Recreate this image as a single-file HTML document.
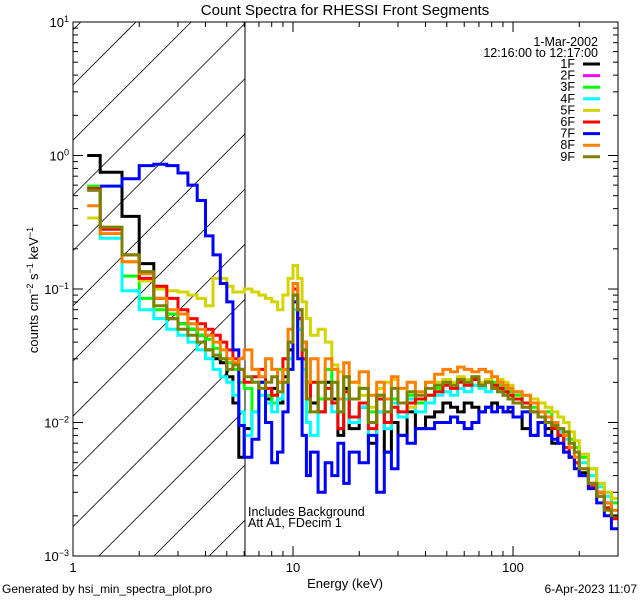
<!DOCTYPE html>
<html><head><meta charset="utf-8"><style>
html,body{margin:0;padding:0;background:#fff;width:640px;height:600px;overflow:hidden;}
svg{display:block;font-family:"Liberation Sans",sans-serif;overflow:hidden;}
</style></head><body>
<svg id="chart" width="640" height="600" viewBox="0 0 640 600" xmlns="http://www.w3.org/2000/svg">
<rect width="640" height="600" fill="#fff"/>
<defs><clipPath id="plotclip"><rect x="73" y="22" width="545" height="534"/></clipPath></defs>
<text x="345" y="15" font-size="15" text-anchor="middle">Count Spectra for RHESSI Front Segments</text>
<g id="hatch"></g>
<line x1="245" y1="22" x2="245" y2="556" stroke="#000" stroke-width="1"/>
<g id="series" clip-path="url(#plotclip)"></g>
<rect x="73" y="22" width="545" height="534" fill="none" stroke="#000" stroke-width="1"/>
<g id="axes"></g>
<text transform="translate(38,290) rotate(-90)" font-size="13" text-anchor="middle">counts cm<tspan baseline-shift="super" font-size="9">−2</tspan> s<tspan baseline-shift="super" font-size="9">−1</tspan> keV<tspan baseline-shift="super" font-size="9">−1</tspan></text>
<text x="345" y="588" font-size="13" text-anchor="middle">Energy (keV)</text>
<text x="248" y="516" font-size="12.5">Includes Background</text>
<text x="248" y="527" font-size="12.5">Att A1, FDecim  1</text>
<text x="2" y="593" font-size="12">Generated by hsi_min_spectra_plot.pro</text>
<text x="637" y="593" font-size="12" text-anchor="end">6-Apr-2023 11:07</text>
<text x="598" y="46" font-size="12.5" text-anchor="end">1-Mar-2002</text>
<text x="598" y="57" font-size="12.5" text-anchor="end">12:16:00 to 12:17:00</text>
<g id="legend"></g>
</svg>
<script>
const edges=[1.16,1.33,1.67,2.0,2.33,2.67,3.0,3.33,3.67,4.0,4.33,4.67,5.0,5.33,5.67,6.0,6.5,7,7.5,8,8.5,9,9.5,10,10.5,11,11.5,12,13,14,15,16,17,18,20,22,24,26,28,30,33,36,40,44,48,52,56,60,65,70,75,80,85,90,95,100,110,120,130,140,150,160,170,180,190,200,220,240,260,280,300];
const names=["1F","2F","3F","4F","5F","6F","7F","8F","9F"];
const colors=["#000000","#ff00ff","#00ff00","#00ffff","#d4d400","#ff0000","#0000ff","#ff8000","#808000"];
const s1F=[1.0,0.75,0.35,0.155,0.085,0.06,0.055,0.05,0.045,0.035,0.03,0.028,0.022,0.014,0.0055,
0.009,0.012,0.02,0.015,0.018,0.014,0.022,0.035,0.09,0.06,0.04,0.02,0.014,0.012,0.02,
0.015,0.008,0.018,0.009,0.013,0.007,0.012,0.006,0.01,0.008,0.012,0.009,0.011,0.012,0.014,0.013,0.012,0.014,0.013,0.012,0.013,0.014,0.013,0.012,0.012,
0.011,0.009,0.008,0.01,0.009,0.007,0.008,0.006,0.0055,0.005,0.0042,0.0035,0.003,0.0025,0.002];
const s2F=[];
const s3F=[0.59,0.29,0.125,0.085,0.07,0.065,0.055,0.05,0.045,0.042,0.036,0.03,0.028,0.025,0.02,
0.018,0.012,0.02,0.016,0.014,0.025,0.02,0.04,0.08,0.05,0.03,0.012,0.02,0.015,0.025,
0.02,0.012,0.022,0.015,0.018,0.012,0.016,0.01,0.015,0.012,0.016,0.014,0.016,0.018,0.02,0.019,0.021,0.02,0.022,0.019,0.021,0.02,0.019,0.018,0.017,
0.016,0.014,0.013,0.012,0.012,0.01,0.009,0.008,0.0075,0.0065,0.0055,0.0045,0.0035,0.003,0.0025];
const s4F=[0.55,0.24,0.097,0.07,0.06,0.05,0.045,0.04,0.035,0.03,0.025,0.022,0.02,0.016,0.012,
0.008,0.012,0.016,0.014,0.012,0.015,0.02,0.03,0.07,0.05,0.025,0.01,0.008,0.012,0.015,
0.012,0.009,0.015,0.01,0.013,0.008,0.012,0.009,0.014,0.011,0.015,0.012,0.014,0.016,0.017,0.016,0.018,0.017,0.019,0.018,0.017,0.018,0.017,0.016,0.015,
0.015,0.013,0.012,0.011,0.01,0.009,0.0085,0.0075,0.007,0.006,0.005,0.004,0.0033,0.0028,0.0022];
const s5F=[0.34,0.29,0.16,0.115,0.1,0.097,0.095,0.09,0.085,0.075,0.12,0.12,0.105,0.095,0.095,
0.1,0.095,0.09,0.085,0.08,0.07,0.09,0.12,0.15,0.12,0.08,0.06,0.045,0.05,0.04,
0.027,0.024,0.022,0.02,0.016,0.013,0.018,0.02,0.021,0.014,0.013,0.015,0.02,0.02,0.021,0.02,0.022,0.021,0.021,0.02,0.021,0.022,0.021,0.02,0.019,
0.017,0.016,0.015,0.014,0.013,0.012,0.011,0.01,0.0085,0.0073,0.0058,0.0045,0.0035,0.003,0.0027];
const s6F=[0.565,0.28,0.18,0.12,0.105,0.085,0.07,0.06,0.055,0.05,0.045,0.04,0.035,0.03,0.025,
0.02,0.022,0.025,0.018,0.016,0.02,0.03,0.04,0.1,0.06,0.03,0.015,0.02,0.012,0.018,
0.014,0.009,0.017,0.011,0.014,0.009,0.015,0.01,0.013,0.012,0.014,0.015,0.016,0.017,0.019,0.018,0.02,0.019,0.021,0.019,0.02,0.019,0.018,0.017,0.016,
0.015,0.014,0.012,0.011,0.01,0.009,0.008,0.0065,0.0055,0.005,0.004,0.0033,0.0028,0.0023,0.0019];
const s7F=[null,0.59,0.67,0.84,0.86,0.84,0.74,0.6,0.46,0.25,0.18,0.11,0.08,0.035,0.0095,
0.0055,0.0075,0.02,0.01,0.005,0.006,0.012,0.025,0.08,0.03,0.008,0.004,0.006,0.003,0.005,
0.004,0.007,0.0035,0.006,0.005,0.008,0.003,0.006,0.0045,0.008,0.007,0.009,0.009,0.01,0.01,0.011,0.01,0.009,0.01,0.012,0.013,0.012,0.013,0.012,0.013,
0.011,0.012,0.008,0.01,0.008,0.0075,0.007,0.006,0.0055,0.0045,0.004,0.0032,0.0025,0.002,0.0016];
const s8F=[0.42,0.26,0.16,0.13,0.085,0.07,0.065,0.055,0.05,0.045,0.04,0.035,0.03,0.028,0.03,
0.035,0.025,0.022,0.03,0.025,0.02,0.025,0.05,0.11,0.07,0.04,0.02,0.03,0.02,0.03,
0.025,0.015,0.028,0.02,0.024,0.016,0.02,0.015,0.022,0.018,0.02,0.017,0.02,0.023,0.025,0.024,0.026,0.025,0.024,0.025,0.024,0.022,0.02,0.019,0.018,
0.017,0.016,0.014,0.012,0.011,0.01,0.009,0.008,0.0065,0.0055,0.0045,0.0035,0.003,0.0025,0.0022];
const s9F=[0.55,0.29,0.18,0.135,0.075,0.06,0.05,0.045,0.04,0.035,0.032,0.03,0.025,0.027,0.025,
0.022,0.02,0.018,0.02,0.022,0.017,0.02,0.04,0.09,0.07,0.035,0.015,0.012,0.02,0.015,
0.02,0.012,0.022,0.015,0.018,0.01,0.016,0.012,0.018,0.014,0.017,0.016,0.018,0.019,0.02,0.019,0.021,0.02,0.022,0.019,0.02,0.018,0.017,0.016,0.015,
0.014,0.013,0.012,0.011,0.01,0.0095,0.009,0.0085,0.007,0.006,0.0045,0.0035,0.0028,0.0022,0.002];
const allSeries=[s1F,s2F,s3F,s4F,s5F,s6F,s7F,s8F,s9F];
const yTickExp=[-3,-2,-1,0,1];
const xTickLabels=[1,10,100];

const NS="http://www.w3.org/2000/svg";
const X0=73,X1=618,Y0=556,Y1=22,XMIN=1,XMAX=300,YMIN=-3,YMAX=1;
function xs(e){return X0+(Math.log10(e)-Math.log10(XMIN))/(Math.log10(XMAX)-Math.log10(XMIN))*(X1-X0);}
function ys(v){return Y0-(Math.log10(v)-YMIN)/(YMAX-YMIN)*(Y0-Y1);}
function cy(v){return Math.max(Y1,Math.min(Y0,ys(v)));}
function mk(t,a,p){const el=document.createElementNS(NS,t);for(const k in a)el.setAttribute(k,a[k]);p.appendChild(el);return el;}

const hatch=document.getElementById('hatch');
const HX1=245;
for(let c=158-55.2*3;c<900;c+=55.2){
  const xa=Math.max(X0,c-Y0),xb=Math.min(HX1,c-Y1);
  if(xb<=xa)continue;
  const ln=mk('line',{x1:xa,y1:c-xa,x2:xb,y2:c-xb,stroke:'#000','stroke-width':0.8},hatch);
  
  
}
const sg=document.getElementById('series');
allSeries.forEach((vals,si)=>{
  if(!vals.length)return;
  let d='';let pen=false;
  for(let i=0;i<vals.length;i++){
    const v=vals[i];
    if(v==null){pen=false;continue;}
    const xa=xs(edges[i]),xb=Math.min(X1,xs(edges[i+1])),y=cy(v);
    d+=(pen?'L':'M')+xa.toFixed(1)+','+y.toFixed(1)+'L'+xb.toFixed(1)+','+y.toFixed(1);
    pen=true;
  }
  const p=mk('path',{d:d,fill:'none',stroke:colors[si],'stroke-width':3,'stroke-linejoin':'miter'},sg);
  
  
});
const ax=document.getElementById('axes');
for(let e=YMIN;e<=YMAX;e++){
  for(let m=1;m<=9;m++){
    if(e===YMAX&&m>1)break;
    const y=ys(m*Math.pow(10,e));const L=m===1?10:5;
    mk('line',{x1:X0,y1:y,x2:X0+L,y2:y,stroke:'#000'},ax);
    mk('line',{x1:X1,y1:y,x2:X1-L,y2:y,stroke:'#000'},ax);
  }
}
yTickExp.forEach(e=>{
  const t=mk('text',{x:X0-4,y:ys(Math.pow(10,e))+5,'font-size':13,'text-anchor':'end'},ax);
  
  
  t.innerHTML='10<tspan baseline-shift="super" font-size="9">'+(e<0?'−'+(-e):e)+'</tspan>';
});
for(let e=0;e<=2;e++){
  for(let m=1;m<=9;m++){
    const v=m*Math.pow(10,e);if(v>XMAX)break;
    const x=xs(v);const L=m===1?10:5;
    mk('line',{x1:x,y1:Y0,x2:x,y2:Y0-L,stroke:'#000'},ax);
    mk('line',{x1:x,y1:Y1,x2:x,y2:Y1+L,stroke:'#000'},ax);
  }
}
xTickLabels.forEach(v=>{
  const t=mk('text',{x:xs(v),y:Y0+16,'font-size':13,'text-anchor':'middle'},ax);
  
  
  t.textContent=String(v);
});
const lg=document.getElementById('legend');
names.forEach((n,i)=>{
  const y=68+i*11.6;
  const t=mk('text',{x:575,y:y,'font-size':12.5,'text-anchor':'end'},lg);
  
  
  t.textContent=n;
  const l=mk('line',{x1:583,y1:y-4,x2:600,y2:y-4,stroke:colors[i],'stroke-width':3},lg);
  
  
});
</script>
</body></html>
